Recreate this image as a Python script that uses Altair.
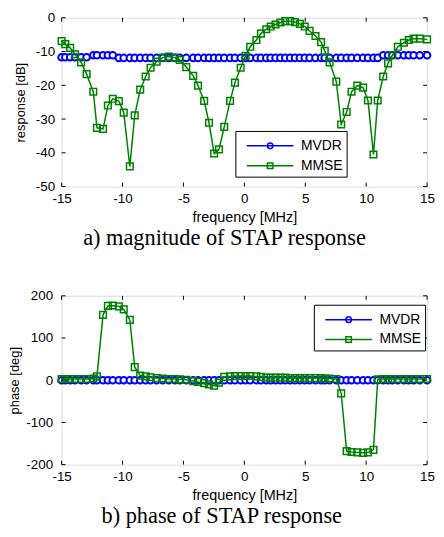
import altair as alt
import pandas as pd

# ---------------- data ----------------
freq = [-15.0, -14.7, -14.3, -13.9, -13.4, -12.95, -12.4, -12.1, -11.6, -11.2,
        -10.8, -10.3, -9.9, -9.4, -9.0, -8.55, -8.1, -7.7, -7.2, -6.7,
        -6.2, -5.7, -5.3, -4.77, -4.2, -3.8, -3.3, -2.9, -2.48, -2.08,
        -1.65, -1.17, -0.77, -0.3, 0.1, 0.48, 0.99, 1.36, 1.8, 2.16,
        2.56, 2.96, 3.36, 3.76, 4.16, 4.56, 4.96, 5.36, 5.84, 6.3,
        6.6, 7.0, 7.55, 7.95, 8.4, 8.8, 9.27, 9.75, 10.15, 10.6,
        10.95, 11.4, 11.8, 12.15, 12.6, 13.1, 13.5, 13.9, 14.4, 15.0]

mmse_mag = [-6.9, -7.8, -8.9, -10.8, -13.2, -16.7, -21.9, -32.6, -32.9, -26.0,
            -24.0, -24.7, -28.1, -44.0, -28.9, -21.3, -17.4, -14.8, -13.0, -11.8,
            -11.5, -11.8, -12.5, -14.6, -17.2, -20.1, -24.6, -31.1, -40.2, -39.0,
            -32.3, -24.6, -19.2, -14.8, -11.3, -8.6, -6.6, -4.7, -3.4, -2.6,
            -2.0, -1.4, -1.0, -1.0, -1.3, -1.8, -2.6, -3.9, -5.4, -7.2,
            -9.8, -13.2, -18.9, -31.6, -27.9, -21.9, -20.1, -20.7, -24.5, -40.5,
            -24.5, -17.4, -13.5, -11.1, -8.6, -7.4, -6.6, -6.2, -6.2, -6.4]

mvdr_mag = [-11.7, -11.7, -11.7, -11.7, -11.7, -11.7, -11.1, -11.1, -11.1, -11.1,
            -11.1, -11.9, -11.9, -11.9, -11.9, -11.9, -11.9, -11.9, -11.9, -11.9,
            -11.9, -11.9, -11.9, -11.9, -11.9, -11.9, -11.9, -11.9, -11.9, -11.9,
            -11.9, -11.9, -11.9, -11.9, -11.9, -11.9, -11.9, -11.9, -11.9, -11.9,
            -11.9, -11.9, -11.9, -11.9, -11.9, -11.9, -11.9, -11.9, -11.9, -11.9,
            -11.9, -11.9, -11.9, -11.9, -11.9, -11.9, -11.9, -11.9, -11.9, -11.9,
            -11.9, -11.1, -11.1, -11.1, -11.1, -11.1, -11.1, -11.1, -11.1, -11.1]

mmse_phase = [3, 3, 3, 3, 3, 3, 4, 9, 155, 176,
              177, 175, 168, 143, 31, 11, 9, 7, 5, 4,
              3, 3, 2, 1, -2, -4, -7, -10, -13, -6,
              8, 9, 10, 10, 10, 10, 9, 8, 6, 6,
              6, 6, 6, 5, 5, 5, 5, 5, 5, 5,
              4, 4, 3, -31, -168, -170, -171, -172, -171, -165,
              2, 3, 3, 3, 3, 3, 3, 3, 3, 3]

mvdr_phase = [0, 0, 0, 0, 0, 0, 0, 0, 0, 0,
              0, 0, 0, 0, 0, 0, 0, 0, 0, 0,
              0, 0, 0, 0, 0, 0, 0, 0, 0, 0,
              0, 0, 0, 0, 0, 0, 0, 0, 0, 0,
              0, 0, 0, 0, 0, 0, 0, 0, 0, 0,
              0, 0, 0, 0, 0, 0, 0, 0, 0, 0,
              0, 0, 0, 0, 0, 0, 0, 0, 0, 0]

series_names = ["MVDR", "MMSE"]
series_colors = ["#0000ff", "#008000"]
x_ticks = [-15, -10, -5, 0, 5, 10, 15]
mag_ticks = [-50, -40, -30, -20, -10, 0]
phase_ticks = [-200, -100, 0, 100, 200]

# ---------------- styling ----------------
SANS = "Liberation Sans"
SERIF = "Liberation Serif"
BLUE, GREEN = series_colors
W, H = 368, 170
TICK = 4

# legend symbols: line + marker (custom SVG paths)
legend_paths = [
    "M-2.35,0H2.35M0.28,0A0.28,0.28,0,1,1,-0.28,0A0.28,0.28,0,1,1,0.28,0Z",
    "M-2.35,0H2.35M-0.28,-0.28H0.28V0.28H-0.28Z",
]


def make_df(mvdr, mmse):
    rows = []
    for f, a, b in zip(freq, mvdr, mmse):
        rows.append({"f": f, "v": a, "s": series_names[0]})
        rows.append({"f": f, "v": b, "s": series_names[1]})
    return pd.DataFrame(rows)


def panel(df, ydom, yticks, ytitle, caption, lx, ly, ylabpad, ytitlepad):
    xs = alt.Scale(domain=[-15, 15], nice=False, zero=False)
    ys = alt.Scale(domain=ydom, nice=False, zero=False)
    lab = "'' + datum.value"
    xax = alt.Axis(values=x_ticks, title="frequency [MHz]", ticks=False, domain=False,
                   grid=False, labelFont=SANS, labelFontSize=13.5, labelColor="black",
                   labelPadding=5, labelFlush=False, labelExpr=lab,
                   titleFont=SANS, titleFontSize=14.5, titleFontWeight="normal",
                   titleColor="black", titlePadding=6)
    yax = alt.Axis(values=yticks, title=ytitle, ticks=False, domain=False, grid=False,
                   labelFont=SANS, labelFontSize=13.5, labelColor="black",
                   labelPadding=ylabpad, labelFlush=False, labelExpr=lab,
                   titleFont=SANS, titleFontSize=13, titleFontWeight="normal",
                   titleColor="black", titlePadding=ytitlepad)
    X = alt.X("f:Q", scale=xs, axis=xax)
    Y = alt.Y("v:Q", scale=ys, axis=yax)
    base = alt.Chart(df)
    mv = base.transform_filter(alt.datum.s == series_names[0])
    mm = base.transform_filter(alt.datum.s == series_names[1])
    mv_line = mv.mark_line(color=BLUE, strokeWidth=1.5).encode(x=X, y=Y)
    mv_pts = mv.mark_point(shape="circle", size=45, fill="white", stroke=BLUE,
                           strokeWidth=2, opacity=1).encode(x=X, y=Y)
    mm_line = mm.mark_line(color=GREEN, strokeWidth=1.5).encode(x=X, y=Y)
    mm_pts = mm.mark_point(shape="square", size=45, filled=False, color=GREEN,
                           strokeWidth=1.5, opacity=1).encode(x=X, y=Y)

    xt = pd.DataFrame({"t": x_ticks})
    yt = pd.DataFrame({"t": yticks})
    XT = alt.X("t:Q", scale=xs, axis=xax)
    YT = alt.Y("t:Q", scale=ys, axis=yax)
    tk_b = alt.Chart(xt).mark_rule(color="black").encode(x=XT, y=alt.value(H), y2=alt.value(H - TICK))
    tk_t = alt.Chart(xt).mark_rule(color="black").encode(x=XT, y=alt.value(0), y2=alt.value(TICK))
    tk_l = alt.Chart(yt).mark_rule(color="black").encode(y=YT, x=alt.value(0), x2=alt.value(TICK))
    tk_r = alt.Chart(yt).mark_rule(color="black").encode(y=YT, x=alt.value(W), x2=alt.value(W - TICK))

    leg = alt.Legend(title=None, orient="none", legendX=lx, legendY=ly,
                     strokeColor="black", fillColor="white", padding=4,
                     symbolSize=400, symbolStrokeWidth=1.5, symbolOffset=20,
                     labelFont=SANS, labelFontSize=14, labelColor="black",
                     labelOffset=20, rowPadding=2, cornerRadius=0)
    legend_layer = base.transform_filter("datum.f > 1000").mark_point(
        filled=False, opacity=1, strokeWidth=1.5).encode(
        color=alt.Color("s:N", scale=alt.Scale(domain=series_names, range=series_colors), legend=leg),
        shape=alt.Shape("s:N", scale=alt.Scale(domain=series_names, range=legend_paths), legend=leg),
    )

    return alt.layer(mv_line, mv_pts, mm_line, mm_pts, tk_b, tk_t, tk_l, tk_r, legend_layer).properties(
        width=W, height=H,
        title=alt.TitleParams(caption, orient="bottom", anchor="middle", frame="bounds",
                              font=SERIF, fontSize=22.5, fontWeight="normal", color="black",
                              offset=3),
    )


top = panel(make_df(mvdr_mag, mmse_mag), [-50, 0], mag_ticks, "response [dB]",
            "a) magnitude of STAP response", 175, 114, 7, 8)
bottom = panel(make_df(mvdr_phase, mmse_phase), [-200, 200], phase_ticks, "phase [deg]",
               "b) phase of STAP response", 254, 9, 9, 4)

chart = alt.vconcat(top, bottom, spacing=38).resolve_scale(
    color="independent", shape="independent"
).resolve_legend(
    color="independent", shape="independent"
).properties(
    padding={"left": 0, "top": 0, "right": 0, "bottom": 0}
).configure_view(stroke="black", strokeWidth=1).configure(background="white")

chart.save("out.html", embed_options={"renderer": "svg", "actions": False})
